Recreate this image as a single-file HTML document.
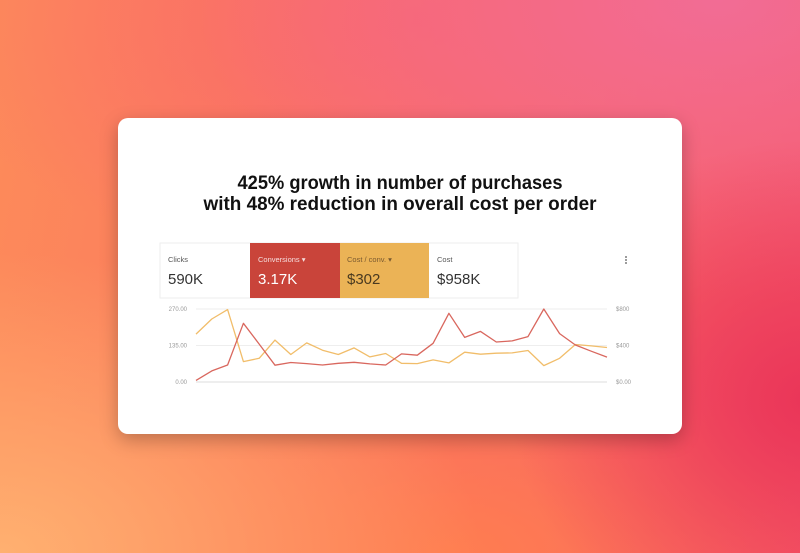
<!DOCTYPE html>
<html><head><meta charset="utf-8">
<style>
html,body{margin:0;padding:0;}
body{width:800px;height:553px;overflow:hidden;position:relative;font-family:"Liberation Sans",sans-serif;
background:
radial-gradient(ellipse 300px 260px at 810px 400px,#ea3558 0%,rgba(234,53,88,0) 100%),
radial-gradient(ellipse 520px 300px at 720px 0px,#f26c95 0%,rgba(242,108,149,0) 100%),
radial-gradient(ellipse 500px 260px at 420px 20px,rgba(248,96,112,0.7) 0%,rgba(248,96,112,0) 100%),
radial-gradient(ellipse 480px 300px at 0px 553px,#ffb070 0%,rgba(255,176,112,0) 100%),
radial-gradient(ellipse 420px 200px at 450px 553px,#ff7d50 0%,rgba(255,125,80,0) 100%),
linear-gradient(100deg,#fd8b5a 0%,#fb7460 50%,#f5566a 100%);}
.card{position:absolute;left:118px;top:118px;width:564px;height:316px;background:#fff;border-radius:10px;box-shadow:0 6px 18px rgba(0,0,0,0.25);}
svg{position:absolute;left:0;top:0;}
</style></head><body>
<div class="card"></div>
<svg width="800" height="553">
  <g font-weight="bold" font-size="19" fill="#111" text-anchor="middle" font-family="'Liberation Sans',sans-serif">
    <text x="400" y="189" textLength="325" lengthAdjust="spacingAndGlyphs">425% growth in number of purchases</text>
    <text x="400" y="210" textLength="393" lengthAdjust="spacingAndGlyphs">with 48% reduction in overall cost per order</text>
  </g>
  <g>
    <rect x="160" y="243" width="358" height="55" fill="#fff" stroke="#eee"/>
    <g>
      <text x="168" y="262" font-size="7.5" fill="#555">Clicks</text>
      <text x="168" y="284" font-size="15" fill="#333">590K</text>
    </g>
    <g>
      <rect x="250" y="243" width="90" height="55" fill="#c9443a"/>
      <text x="258" y="262" font-size="7.5" fill="#f6dede">Conversions ▾</text>
      <text x="258" y="284" font-size="15" fill="#fff">3.17K</text>
    </g>
    <g>
      <rect x="340" y="243" width="89" height="55" fill="#ebb356"/>
      <text x="347" y="262" font-size="7.5" fill="#7a5a30">Cost / conv. ▾</text>
      <text x="347" y="284" font-size="15" fill="#4a3a20">$302</text>
    </g>
    <g>
      <text x="437" y="262" font-size="7.5" fill="#555">Cost</text>
      <text x="437" y="284" font-size="15" fill="#333">$958K</text>
    </g>
    <g fill="#555">
      <circle cx="626" cy="257" r="0.9"/><circle cx="626" cy="260" r="0.9"/><circle cx="626" cy="263" r="0.9"/>
    </g>
  </g>
  <g id="grid"></g>
  <g id="axes"></g>
  <g id="series"></g>
</svg>
<script>
const conversions=[6,41,63,217,140,62,72,68,63,69,73,67,63,104,99,143,254,165,187,148,152,168,270,179,137,114,92];
const costPerConv=[525,690,793,224,260,459,301,429,349,301,374,275,312,205,202,242,209,327,305,316,319,345,180,260,411,396,378];
const leftTicks=[0,135,270];
const leftLabels=["0.00","135.00","270.00"];
const rightTicks=[0,400,800];
const rightLabels=["$0.00","$400","$800"];
const X0=196,X1=607,Y0=382,Y1=309;
const n=conversions.length;
const xs=i=>X0+(X1-X0)*i/(n-1);
const yL=v=>Y0-(Y0-Y1)*v/270;
const yR=v=>Y0-(Y0-Y1)*v/800;
const NS="http://www.w3.org/2000/svg";
const grid=document.getElementById('grid'),axes=document.getElementById('axes'),ser=document.getElementById('series');
leftTicks.forEach((t,i)=>{
  const l=document.createElementNS(NS,'line');
  
  
  l.setAttribute('x1',X0);l.setAttribute('x2',X1);l.setAttribute('y1',yL(t));l.setAttribute('y2',yL(t));
  l.setAttribute('stroke',i==0?'#ddd':'#eee');l.setAttribute('stroke-width','1');
  grid.appendChild(l);
  const tx=document.createElementNS(NS,'text');
  
  
  tx.setAttribute('x',187);tx.setAttribute('y',yL(t)+2);tx.setAttribute('text-anchor','end');
  tx.setAttribute('font-size','6');tx.setAttribute('fill','#999');tx.textContent=leftLabels[i];
  axes.appendChild(tx);
});
rightTicks.forEach((t,i)=>{
  const tx=document.createElementNS(NS,'text');
  
  
  tx.setAttribute('x',616);tx.setAttribute('y',yR(t)+2);
  tx.setAttribute('font-size','6');tx.setAttribute('fill','#999');tx.textContent=rightLabels[i];
  axes.appendChild(tx);
});
function line(data,yf,color,name){
  const p=document.createElementNS(NS,'polyline');
  
  
  p.setAttribute('points',data.map((v,i)=>xs(i).toFixed(1)+','+yf(v).toFixed(1)).join(' '));
  p.setAttribute('fill','none');p.setAttribute('stroke',color);p.setAttribute('stroke-width','1.3');
  p.setAttribute('stroke-linejoin','round');
  ser.appendChild(p);
}
line(costPerConv,yR,'#f1bd6a','cost-per-conv-line');
line(conversions,yL,'#d9675e','conversions-line');
</script>
</body></html>
